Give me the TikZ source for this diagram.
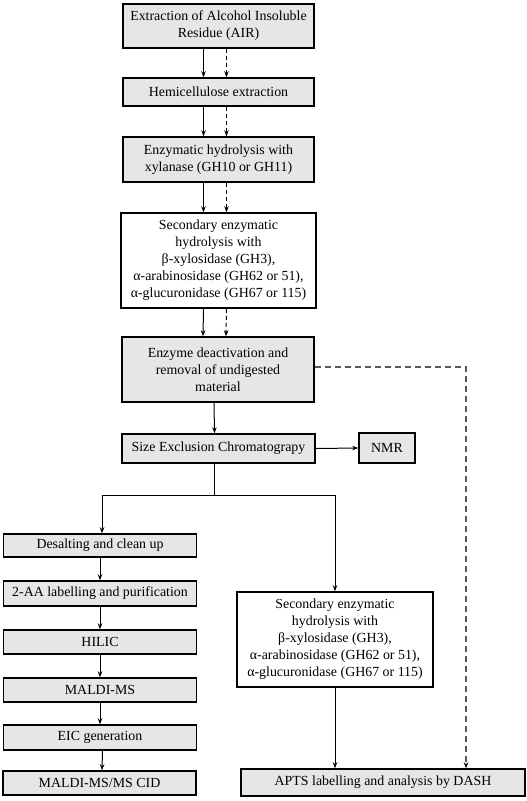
\documentclass[tikz,border=0pt]{standalone}
\usepackage{fontspec}
\setmainfont{Liberation Serif}
\usetikzlibrary{arrows.meta,calc}
\begin{document}
\begin{tikzpicture}[x=1pt,y=-1pt,
  box/.style={draw=black,line width=1.5pt,fill=boxgrey,inner sep=1pt,align=center,
    font=\fontsize{13.9}{17}\selectfont},
  wbox/.style={box,fill=white},
  arr/.style={line width=1pt,-{Stealth[length=6pt,width=4.5pt]}},
  darr/.style={arr,dash pattern=on 4pt off 3pt},
  gdash/.style={line width=1.1pt,draw=black!65,dash pattern=on 6pt off 4pt,-{Stealth[length=6pt,width=4.5pt,color=black]}}]
\definecolor{boxgrey}{RGB}{230,230,230}
\path[use as bounding box] (0,0) rectangle (527,801);
\node[box,minimum width=191pt,minimum height=44pt] (b1) at (218.5,26) {Extraction of Alcohol Insoluble\\Residue (AIR)};
\node[box,minimum width=191pt,minimum height=28pt] (b2) at (218.5,92) {Hemicellulose extraction};
\node[box,minimum width=191pt,minimum height=45pt] (b3) at (218.5,159.5) {Enzymatic hydrolysis with\\xylanase (GH10 or GH11)};
\node[wbox,minimum width=195pt,minimum height=95pt] (b4) at (218.5,260.5) {Secondary enzymatic\\hydrolysis with\\β-xylosidase (GH3),\\α-arabinosidase (GH62 or 51),\\α-glucuronidase (GH67 or 115)};
\node[box,minimum width=192pt,minimum height=65pt] (b5) at (218,369.5) {Enzyme deactivation and\\removal of undigested\\material};
\node[box,minimum width=193pt,minimum height=29pt] (sec) at (218.5,448.5) {Size Exclusion Chromatograpy};
\node[box,minimum width=56pt,minimum height=30pt] (nmr) at (387,448) {NMR};
\node[box,minimum width=193pt,minimum height=23pt] (l1) at (100,545.5) {Desalting and clean up};
\node[box,minimum width=193pt,minimum height=25pt] (l2) at (100,593.5) {2-AA labelling and purification};
\node[box,minimum width=193pt,minimum height=24pt] (l3) at (100,642) {HILIC};
\node[box,minimum width=193pt,minimum height=24pt] (l4) at (100,690) {MALDI-MS};
\node[box,minimum width=193pt,minimum height=25pt] (l5) at (100,737.5) {EIC generation};
\node[box,minimum width=193pt,minimum height=24pt] (l6) at (99.5,783) {MALDI-MS/MS CID};
\node[wbox,minimum width=196pt,minimum height=95pt] (r1) at (335,639.5) {Secondary enzymatic\\hydrolysis with\\β-xylosidase (GH3),\\α-arabinosidase (GH62 or 51),\\α-glucuronidase (GH67 or 115)};
\node[box,minimum width=284pt,minimum height=27pt] (apts) at (383,782.5) {APTS labelling and analysis by DASH};
% double arrows
\foreach \a/\b in {b1/b2,b2/b3,b3/b4,b4/b5}{
  \draw[arr] ([xshift=-15pt]\a.south) -- ([xshift=-15pt]\b.north);
  \draw[darr] ([xshift=8pt]\a.south) -- ([xshift=8pt]\b.north);
}
\draw[arr] ([xshift=-4pt]b5.south) -- ([xshift=-4pt]sec.north);
\draw[arr] (sec.east) -- (nmr.west);
\coordinate (split) at ($([xshift=-4pt]sec.south)+(0,32)$);
\draw[line width=1pt] ([xshift=-4pt]sec.south) -- (split);
\draw[arr] (split) -| ([xshift=2pt]l1.north);
\draw[arr] (split) -| (r1.north);
\draw[arr] (l1) -- (l2);
\draw[arr] (l2) -- (l3);
\draw[arr] (l3) -- (l4);
\draw[arr] (l4) -- (l5);
\draw[arr] ([xshift=2.5pt]l5.south) -- ([xshift=2.5pt]l6.north);
\draw[arr] (r1.south) -- (r1.south |- apts.north);
\draw[gdash] ([yshift=2.5pt]b5.east) -| ([xshift=83pt]apts.north);
\end{tikzpicture}
\end{document}
